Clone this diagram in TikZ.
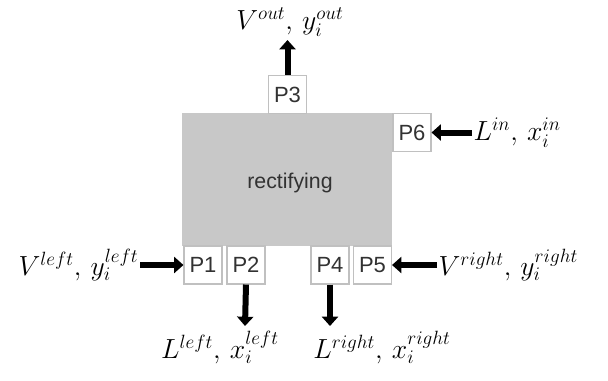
\documentclass[tikz,border=0pt]{standalone}
\usepackage{fontspec}
\setmainfont{Liberation Sans}
\usetikzlibrary{arrows.meta}
\definecolor{blockGray}{RGB}{200,200,200}
\definecolor{portLine}{RGB}{192,192,192}
\definecolor{labelText}{RGB}{50,50,50}
\newcommand{\portBox}[3]{%%
  \node[portStyle] (#1) at (#2) {#3};
}
\newcommand{\flowLabel}[3]{%%
  \node[labelStyle,#3] at (#1) {$#2$};
}

\begin{document}
\begin{tikzpicture}[x=0.75pt,y=-0.75pt,%%
  blockStyle/.style={fill=blockGray,draw=none},%%
  portStyle/.style={draw=portLine,fill=white,line width=0.8pt,minimum size=28.5pt,inner sep=0pt,text=labelText,font=\fontsize{16.5}{18}\selectfont},%%
  arrowStyle/.style={line width=4.5pt,-{Triangle[length=7pt,width=12pt]}},%%
  labelStyle/.style={inner sep=1pt,font=\fontsize{21}{24}\selectfont}%%
]
%%
\useasboundingbox (0,0) rectangle (608,380);
%%
%% The rectifying block.
\draw[blockStyle] (182,113) rectangle (392,246);
\node[text=labelText,font=\fontsize{16}{18}\selectfont] (rectifying) at (290,183) {rectifying};
%%
%% The ports.
\portBox{p1}{203,265}{P1}
\portBox{p2}{246,265}{P2}
\portBox{p3}{287.5,94.5}{P3}
\portBox{p4}{330,265}{P4}
\portBox{p5}{372.5,265}{P5}
\portBox{p6}{412,132.5}{P6}
%%
%% Free ends of the streams.
\coordinate (vOut) at (287.5,40);
\coordinate (lIn) at (472,132.5);
\coordinate (vRight) at (437,265);
\coordinate (vLeft) at (140,265);
\coordinate (lLeft) at (245,326);
\coordinate (lRight) at (330,326);
%%
%% The streams.
\draw[arrowStyle] (p3.north) -- (vOut);
\draw[arrowStyle] (lIn) -- (p6.east);
\draw[arrowStyle] (vRight) -- (p5.east);
\draw[arrowStyle] (vLeft) -- (p1.west);
\draw[arrowStyle] (p2.south) -- (lLeft);
\draw[arrowStyle] (p4.south) -- (lRight);
%%
%% The stream labels.
\flowLabel{290,38}{V^{out},\, y_i^{out}}{anchor=south}
\flowLabel{lIn}{L^{in},\, x_i^{in}}{anchor=west}
\flowLabel{vRight}{V^{right},\, y_i^{right}}{anchor=west}
\flowLabel{vLeft}{V^{left},\, y_i^{left}}{anchor=east}
\flowLabel{220,330}{L^{left},\, x_i^{left}}{anchor=north}
\flowLabel{382,330}{L^{right},\, x_i^{right}}{anchor=north}
\end{tikzpicture}
\end{document}
